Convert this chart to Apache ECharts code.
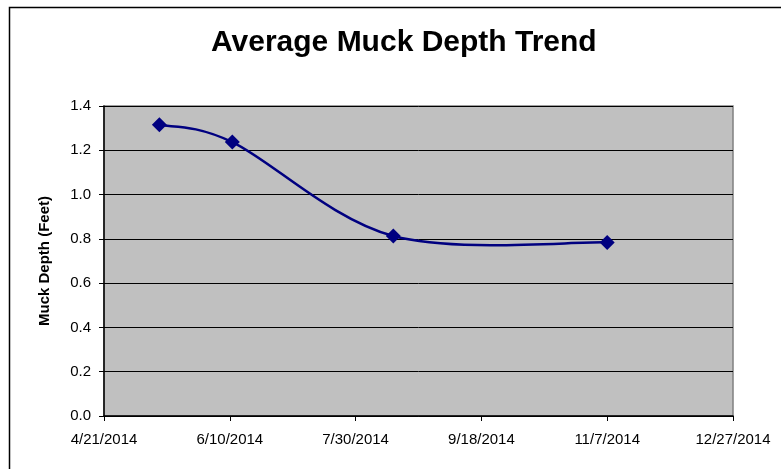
<!DOCTYPE html>
<html>
<head>
<meta charset="utf-8">
<script src="https://cdn.jsdelivr.net/npm/echarts@6/dist/echarts.min.js"></script>
<style>
html,body{margin:0;padding:0;background:#fff;}
#chart{width:781px;height:469px;}
</style>
</head>
<body>
<div id="chart"></div>
<script>
// Data
const dates = ['2014-05-13', '2014-06-11', '2014-08-14', '2014-11-07'];
const depths = [1.315, 1.237, 0.813, 0.784];
const xAxisStart = '2014-04-21';
const xAxisEnd = '2014-12-27';
const xTickDays = 50;
const yTicks = [0.0, 0.2, 0.4, 0.6, 0.8, 1.0, 1.2, 1.4];

const DAY = 86400000;
const base = Date.parse(xAxisStart + 'T00:00:00Z');
const toDay = s => (Date.parse(s + 'T00:00:00Z') - base) / DAY;
const fmt = d => {
  const t = new Date(base + d * DAY);
  return (t.getUTCMonth() + 1) + '/' + t.getUTCDate() + '/' + t.getUTCFullYear();
};
const points = dates.map((d, i) => [toDay(d), depths[i]]);

// Excel-style smoothed line (Catmull-Rom through the data points, in pixel space via the axes)
function renderSmooth(params, api) {
  if (params.dataIndex !== 0) return null;
  const p = points.map(pt => api.coord(pt));
  const n = p.length;
  let d = 'M' + p[0][0] + ' ' + p[0][1];
  for (let i = 0; i < n - 1; i++) {
    const p0 = p[i > 0 ? i - 1 : i], p1 = p[i], p2 = p[i + 1], p3 = p[i + 2 < n ? i + 2 : i + 1];
    const c1 = [p1[0] + (p2[0] - p0[0]) / 6, p1[1] + (p2[1] - p0[1]) / 6];
    const c2 = [p2[0] - (p3[0] - p1[0]) / 6, p2[1] - (p3[1] - p1[1]) / 6];
    d += ' C' + c1[0] + ' ' + c1[1] + ' ' + c2[0] + ' ' + c2[1] + ' ' + p2[0] + ' ' + p2[1];
  }
  return {
    type: 'path',
    shape: {pathData: d},
    style: {fill: 'none', stroke: '#000080', lineWidth: 2.5}
  };
}

const chart = echarts.init(document.getElementById('chart'), null, {renderer: 'canvas'});
const font = 'Liberation Sans, Arial, sans-serif';
chart.setOption({
  animation: false,
  backgroundColor: '#ffffff',
  graphic: [{
    type: 'rect', left: 7, top: 5, z: -1,
    shape: {width: 800, height: 480},
    style: {fill: 'none', stroke: '#000', lineWidth: 1.5}
  }],
  title: {
    text: 'Average Muck Depth Trend',
    left: 206, top: 23,
    textStyle: {fontFamily: font, fontSize: 30, fontWeight: 'bold', color: '#000'}
  },
  grid: {
    left: 104, right: 48, top: 106, bottom: 53,
    show: true, backgroundColor: '#C0C0C0', borderColor: '#808080', borderWidth: 1.5
  },
  xAxis: {
    type: 'value',
    min: 0, max: toDay(xAxisEnd), interval: xTickDays,
    axisLine: {show: true, lineStyle: {color: '#000', width: 1.5}},
    axisTick: {show: true, length: 5, lineStyle: {color: '#000'}},
    splitLine: {show: false},
    axisLabel: {formatter: v => fmt(v), fontFamily: font, fontSize: 15, color: '#000', margin: 16}
  },
  yAxis: {
    type: 'value',
    min: yTicks[0], max: yTicks[yTicks.length - 1], interval: 0.2,
    name: 'Muck Depth (Feet)',
    nameLocation: 'middle', nameGap: 52,
    nameTextStyle: {fontFamily: font, fontSize: 15, fontWeight: 'bold', color: '#000'},
    axisLine: {show: true, lineStyle: {color: '#000', width: 1.5}},
    axisTick: {show: true, length: 5, lineStyle: {color: '#000'}},
    splitLine: {show: true, lineStyle: {color: '#000', width: 1}},
    axisLabel: {formatter: v => v.toFixed(1), fontFamily: font, fontSize: 15, color: '#000', margin: 13}
  },
  series: [{
    type: 'custom',
    renderItem: renderSmooth,
    data: points,
    z: 2
  }, {
    type: 'scatter',
    data: points,
    symbol: 'diamond', symbolSize: 15,
    itemStyle: {color: '#000080', opacity: 1},
    z: 3
  }]
});
</script>
</body>
</html>
